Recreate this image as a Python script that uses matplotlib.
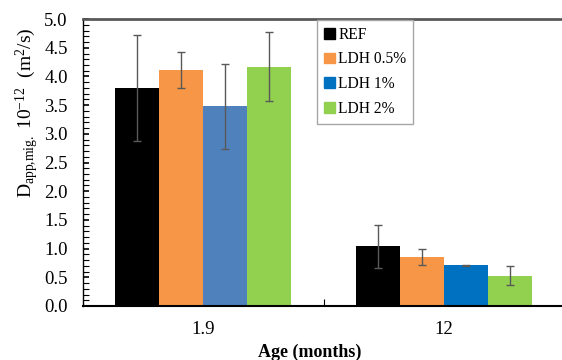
import matplotlib.pyplot as plt
from matplotlib.ticker import MultipleLocator, FixedLocator
from matplotlib.patches import Patch
import numpy as np

plt.rcParams['font.family'] = ['Liberation Serif', 'DejaVu Serif']
plt.rcParams['mathtext.fontset'] = 'custom'
plt.rcParams['mathtext.rm'] = 'Liberation Serif'
plt.rcParams['mathtext.it'] = 'Liberation Serif:italic'

ages = ["1.9", "12"]
series = ["REF", "LDH 0.5%", "LDH 1%", "LDH 2%"]
ref = [3.80, 1.04]
ldh05 = [4.11, 0.85]
ldh1 = [3.48, 0.71]
ldh2 = [4.17, 0.53]
ref_err = [0.92, 0.38]
ldh05_err = [0.31, 0.14]
ldh1_err = [0.74, 0.01]
ldh2_err = [0.60, 0.17]

values = [ref, ldh05, ldh1, ldh2]
errors = [ref_err, ldh05_err, ldh1_err, ldh2_err]
colors = [["#000000", "#000000"], ["#F79646", "#F79646"],
          ["#4F81BD", "#0070C0"], ["#92D050", "#92D050"]]

fig = plt.figure(figsize=(5.62, 3.6), dpi=100)
ax = fig.add_axes([0.1477, 0.15, 0.856, 0.797])

x = np.arange(len(ages))
w = 0.183
for i, name in enumerate(series):
    pos = x + (i - 1.5) * w
    ax.bar(pos, values[i], w, color=colors[i], label=name, linewidth=0)
    ax.errorbar(pos, values[i], yerr=errors[i], fmt='none', ecolor='#595959',
                elinewidth=1, capsize=3, capthick=1)

ax.set_xlim(-0.5, 1.5)
ax.set_ylim(0, 5.0)
ax.yaxis.set_major_locator(MultipleLocator(0.5))
ax.yaxis.set_minor_locator(MultipleLocator(0.1))
ax.yaxis.set_major_formatter(plt.FormatStrFormatter('%.1f'))
ax.tick_params(axis='y', which='both', direction='in', length=4, width=0.8,
               labelsize=13.5, pad=11)
ax.tick_params(axis='y', which='major', width=1.2)

ax.set_xticks(x)
ax.set_xticklabels(ages)
ax.xaxis.set_minor_locator(FixedLocator([0.5]))
ax.tick_params(axis='x', which='major', length=0, labelsize=13.5, pad=11)
ax.tick_params(axis='x', which='minor', direction='in', length=5, width=0.8)

ax.spines['top'].set_color('#595959')
ax.spines['top'].set_linewidth(2)
ax.spines['right'].set_visible(False)
ax.spines['left'].set_linewidth(1)
ax.spines['bottom'].set_linewidth(1.5)

ax.set_xlabel("Age (months)", fontsize=13, fontweight='bold', labelpad=1)
ax.xaxis.set_label_coords(0.472, -0.13)
ax.set_ylabel(r"D$_{\mathrm{app{,}mig.}}$ 10$^{\mathrm{-12}}$  (m$^2$/s)", fontsize=14)
ax.yaxis.set_label_coords(-0.087, 0.672)

# legend uses the second group's blue
handles = [Patch(color=c[1]) for c in colors]
leg = ax.legend(handles, series, loc='upper left', bbox_to_anchor=(0.487, 0.997),
                borderaxespad=0, fontsize=11.2, handlelength=0.7, handleheight=0.7,
                handletextpad=0.2, labelspacing=0.55, borderpad=0.45,
                fancybox=False, framealpha=1)
leg.get_frame().set_edgecolor('#A6A6A6')
leg.get_frame().set_linewidth(1)

fig.savefig("out.png", dpi=100)
